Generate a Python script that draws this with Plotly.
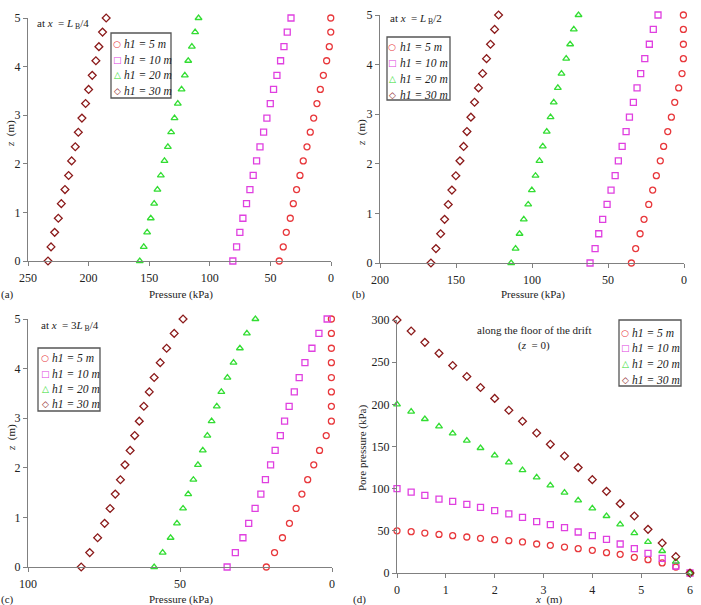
import plotly.graph_objects as go

# ---------------- data ----------------
z_vals = [0, 0.29, 0.59, 0.88, 1.18, 1.47, 1.76, 2.06, 2.35, 2.65, 2.94, 3.24, 3.53, 3.82, 4.12, 4.41, 4.71, 5.0]
x_floor = [0, 0.29, 0.57, 0.86, 1.14, 1.43, 1.71, 2.0, 2.29, 2.57, 2.86, 3.14, 3.43, 3.71, 4.0, 4.29, 4.57, 4.86, 5.14, 5.43, 5.71, 6.0]

series_names = ["h1 = 5 m", "h1 = 10 m", "h1 = 20 m", "h1 = 30 m"]

# (a) at x = L_B/4
a_h5 = [42.7, 39.4, 36.9, 33.6, 31.1, 28.4, 25.6, 22.9, 19.8, 17.1, 14.3, 11.6, 8.8, 6.3, 3.6, 1.4, 0.2, 0.2]
a_h10 = [81.0, 77.9, 75.2, 72.7, 69.7, 66.9, 64.2, 61.4, 58.6, 55.6, 52.9, 50.1, 47.4, 44.6, 41.6, 38.8, 36.1, 33.0]
a_h20 = [157.8, 154.5, 151.7, 148.7, 145.9, 143.2, 140.4, 137.4, 134.6, 131.9, 129.1, 126.4, 123.3, 120.6, 117.8, 114.8, 112.1, 109.3]
a_h30 = [233.5, 231.0, 228.0, 225.0, 222.5, 219.5, 216.5, 214.0, 211.0, 208.5, 205.5, 202.5, 200.0, 197.0, 194.0, 191.5, 188.5, 185.5]

# (b) at x = L_B/2
b_h5 = [34.6, 31.8, 28.9, 26.3, 23.2, 20.6, 18.2, 15.6, 13.4, 10.7, 8.3, 6.1, 3.5, 1.3, 0.4, 0.4, 0.4, 0.4]
b_h10 = [61.8, 58.5, 56.1, 53.5, 50.6, 48.0, 45.3, 43.2, 40.7, 38.1, 35.9, 33.3, 30.9, 28.5, 25.8, 22.8, 20.2, 17.1]
b_h20 = [113.7, 110.8, 108.2, 105.4, 102.5, 100.1, 97.7, 95.1, 92.9, 90.3, 87.8, 85.7, 83.0, 80.6, 77.5, 74.9, 72.5, 69.4]
b_h30 = [166.5, 163.2, 160.1, 157.5, 155.1, 152.7, 150.1, 147.4, 145.0, 142.8, 140.2, 137.8, 135.2, 132.5, 129.9, 127.3, 124.6, 122.0]

# (c) at x = 3L_B/4
c_h5 = [21.6, 18.9, 16.3, 14.0, 11.8, 9.9, 8.0, 6.0, 4.1, 1.9, 0.2, 0.2, 0.2, 0.2, 0.2, 0.2, 0.2, 0.2]
c_h10 = [34.5, 31.8, 29.3, 27.4, 25.3, 23.4, 21.9, 20.2, 18.7, 17.0, 15.6, 14.1, 12.4, 10.8, 8.9, 6.6, 4.3, 1.6]
c_h20 = [58.5, 55.7, 53.1, 51.0, 49.0, 47.3, 45.6, 44.1, 42.5, 41.0, 39.6, 37.9, 36.4, 34.4, 32.4, 30.3, 28.0, 25.2]
c_h30 = [82.5, 79.7, 77.1, 74.8, 73.0, 71.3, 69.6, 68.1, 66.4, 64.9, 63.4, 61.9, 60.1, 58.5, 56.5, 54.4, 51.9, 49.0]

# (d) along the floor of the drift (z = 0)
d_h5 = [50.0, 49.0, 47.4, 45.8, 44.3, 42.7, 41.1, 39.5, 38.3, 36.8, 34.4, 32.8, 30.8, 28.9, 26.9, 24.1, 22.1, 18.6, 15.8, 11.9, 7.1, 0.0]
d_h10 = [100.0, 96.0, 92.0, 87.7, 85.0, 81.4, 77.9, 73.9, 70.0, 66.0, 60.9, 57.3, 53.8, 48.6, 44.3, 39.9, 34.4, 28.9, 23.3, 17.4, 8.3, 0.0]
d_h20 = [200.0, 191.3, 182.6, 173.9, 165.6, 156.9, 148.2, 139.5, 131.2, 122.1, 113.4, 104.0, 95.3, 86.2, 76.7, 67.6, 57.7, 47.4, 36.8, 26.1, 13.4, 0.0]
d_h30 = [300.0, 287.0, 273.5, 260.5, 246.0, 233.0, 220.0, 207.0, 193.0, 180.0, 166.0, 152.6, 138.7, 125.0, 110.7, 96.8, 82.2, 67.6, 51.8, 35.6, 19.4, 0.0]

# ---------------- styles ----------------
colors = ["#E8383C", "#E040E0", "#33DD33", "#8B1A1A"]
symbols = ["circle-open", "square-open", "triangle-up-open", "diamond-open"]
legend_glyphs = ["\u25CB", "\u25A1", "\u25B3", "\u25C7"]
FONT = "Liberation Serif"
W, H = 701, 605


def px_x(p):
    return p / W


def px_y(p):
    return 1 - p / H


fig = go.Figure()

panels = [
    dict(xa="x", ya="y", series=[a_h5, a_h10, a_h20, a_h30], kind="z"),
    dict(xa="x2", ya="y2", series=[b_h5, b_h10, b_h20, b_h30], kind="z"),
    dict(xa="x3", ya="y3", series=[c_h5, c_h10, c_h20, c_h30], kind="z"),
    dict(xa="x4", ya="y4", series=[d_h5, d_h10, d_h20, d_h30], kind="d"),
]

for p in panels:
    for i, vals in enumerate(p["series"]):
        if p["kind"] == "z":
            xs, ys = vals, z_vals
        else:
            xs, ys = x_floor, vals
        fig.add_trace(go.Scatter(
            x=xs, y=ys, mode="markers", name=series_names[i],
            xaxis=p["xa"], yaxis=p["ya"], showlegend=False,
            cliponaxis=False,
            marker=dict(symbol=symbols[i], size=6, color=colors[i],
                        line=dict(width=1.3, color=colors[i])),
        ))

axis_common = dict(
    showgrid=False, zeroline=False, showline=True, linecolor="#808080", linewidth=1.2,
    ticks="outside", ticklen=4, tickcolor="#808080", tickwidth=1,
    tickfont=dict(family=FONT, size=12, color="#222"),
)
xaxis_extra = dict(ticklabelstandoff=1)

dom = {
    "a": dict(x=[px_x(28), px_x(331)], y=[px_y(261), px_y(18)]),
    "b": dict(x=[px_x(380), px_x(684)], y=[px_y(263), px_y(15)]),
    "c": dict(x=[px_x(28), px_x(332)], y=[px_y(567), px_y(319)]),
    "d": dict(x=[px_x(397), px_x(690)], y=[px_y(573), px_y(320)]),
}

fig.update_layout(
    width=W, height=H,
    margin=dict(l=0, r=0, t=0, b=0, pad=0, autoexpand=False),
    paper_bgcolor="white", plot_bgcolor="white",
    showlegend=False,
    font=dict(family=FONT, size=11, color="#222"),
    xaxis=dict(domain=dom["a"]["x"], anchor="y", range=[250, 0], tickvals=[250, 200, 150, 100, 50, 0], **axis_common, **xaxis_extra),
    yaxis=dict(domain=dom["a"]["y"], anchor="x", range=[0, 5], tickvals=[0, 1, 2, 3, 4, 5], **axis_common),
    xaxis2=dict(domain=dom["b"]["x"], anchor="y2", range=[200, 0], tickvals=[200, 150, 100, 50, 0], **axis_common, **xaxis_extra),
    yaxis2=dict(domain=dom["b"]["y"], anchor="x2", range=[0, 5], tickvals=[0, 1, 2, 3, 4, 5], **axis_common),
    xaxis3=dict(domain=dom["c"]["x"], anchor="y3", range=[100, 0], tickvals=[100, 50, 0], **axis_common, **xaxis_extra),
    yaxis3=dict(domain=dom["c"]["y"], anchor="x3", range=[0, 5], tickvals=[0, 1, 2, 3, 4, 5], **axis_common),
    xaxis4=dict(domain=dom["d"]["x"], anchor="y4", range=[0, 6], tickvals=[0, 1, 2, 3, 4, 5, 6], **axis_common, **xaxis_extra),
    yaxis4=dict(domain=dom["d"]["y"], anchor="x4", range=[0, 300], tickvals=[0, 50, 100, 150, 200, 250, 300], **axis_common),
)


def ann(text, x, y, size=11, xanchor="center", yanchor="middle", angle=0, color="#222", family=FONT):
    fig.add_annotation(text=text, x=px_x(x), y=px_y(y), xref="paper", yref="paper",
                       showarrow=False, xanchor=xanchor, yanchor=yanchor, textangle=angle,
                       borderpad=0, font=dict(family=family, size=size, color=color))


# legend boxes: (left, top, right, bottom, symbol x, text x, item y centres)
legend_boxes = [
    (111, 33, 171, 98, 117, 123, [44, 60, 75, 91]),
    (387, 37, 450, 100, 392, 399, [47, 63, 79, 95]),
    (38, 348, 100, 411, 45, 51, [358, 374, 389, 404]),
    (619, 320, 681, 386, 625, 631, [333, 348, 364, 380]),
]
for (l, t, r, b, sx, tx, ys) in legend_boxes:
    fig.add_shape(type="rect", xref="paper", yref="paper",
                  x0=px_x(l), x1=px_x(r), y0=px_y(b), y1=px_y(t),
                  line=dict(color="#555555", width=1.3), fillcolor="white", layer="above")
    for i, yy in enumerate(ys):
        ann(legend_glyphs[i], sx, yy, size=9, color=colors[i], family="DejaVu Sans")
        ann("<i>" + series_names[i] + "</i>", tx, yy, size=11.5, xanchor="left")

# axis titles
ann("Pressure (kPa)", 181, 294, size=11)
ann("Pressure (kPa)", 533, 295, size=11)
ann("Pressure (kPa)", 181, 599, size=11)
ann("<i>x</i>  (m)", 549, 599, size=11)
ann("<i>z</i>  (m)", 11, 134, angle=-90)
ann("<i>z</i>  (m)", 361, 133, angle=-90)
ann("<i>z</i>  (m)", 11, 438, angle=-90)
ann("Pore pressure (kPa)", 362, 448, angle=-90)

# panel labels
ann("(a)", 0, 294, xanchor="left")
ann("(b)", 351, 295, xanchor="left")
ann("(c)", 0, 599, xanchor="left")
ann("(d)", 352, 599, xanchor="left")

# in-plot notes
ann("at <i>x</i>  = <i>L</i><sub> B</sub>/4", 36, 24, xanchor="left")
ann("at <i>x</i>  = <i>L</i><sub> B</sub>/2", 389, 19, xanchor="left")
ann("at <i>x</i>  = 3<i>L</i><sub> B</sub>/4", 40, 326, xanchor="left")
ann("along the floor of the drift", 534, 330)
ann("(<i>z</i>  = 0)", 534, 345)

fig.write_html("out.html", config={"displayModeBar": False},
               post_script="document.body.style.margin='0px';document.body.style.overflow='hidden';")
